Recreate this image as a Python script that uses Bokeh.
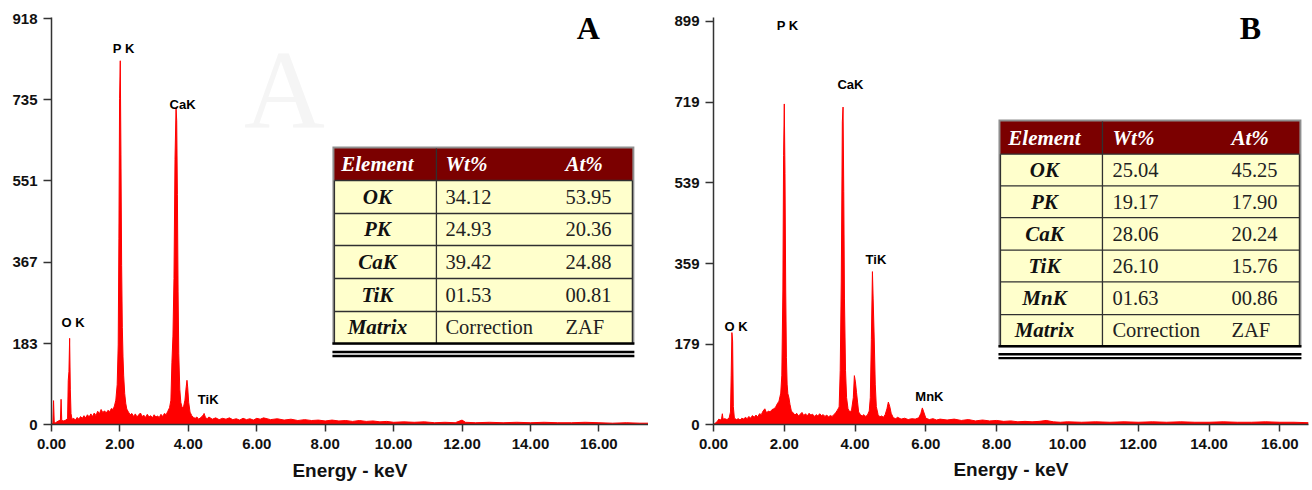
from bokeh.plotting import figure
from bokeh.layouts import row
from bokeh.models import FixedTicker, NumeralTickFormatter, ColumnDataSource, Label, Range1d
from bokeh.core.properties import value
from bokeh.embed import file_html
from bokeh.resources import INLINE

# ---------------- data: panel A ----------------
energy_a = [0.00, 0.04, 0.06, 0.08, 0.12, 0.16, 0.20, 0.26, 0.28, 0.30, 0.36, 0.42, 0.47, 0.49, 0.51, 0.53, 0.55, 0.57, 0.60,
            0.65, 0.70, 0.75, 0.80, 0.85, 0.90, 0.95, 1.00, 1.05, 1.10, 1.15, 1.20, 1.25, 1.30, 1.35, 1.40, 1.45, 1.50,
            1.55, 1.60, 1.65, 1.70, 1.75, 1.80, 1.84, 1.88, 1.92, 1.95, 1.97, 1.99, 2.01, 2.03, 2.05, 2.07, 2.09, 2.11,
            2.14, 2.17, 2.20, 2.25, 2.30, 2.35, 2.40, 2.45, 2.50, 2.55, 2.60, 2.65, 2.70, 2.75, 2.80, 2.85, 2.90, 2.95,
            3.00, 3.05, 3.10, 3.15, 3.20, 3.25, 3.30, 3.35, 3.40, 3.45, 3.49, 3.52, 3.55, 3.58, 3.61, 3.64, 3.66, 3.68,
            3.70, 3.72, 3.75, 3.78, 3.82, 3.86, 3.90, 3.93, 3.96, 3.98, 4.01, 4.05, 4.10, 4.15, 4.20, 4.25, 4.30, 4.35,
            4.40, 4.44, 4.46, 4.50, 4.55, 4.60, 4.70, 4.80, 4.90, 5.00, 5.10, 5.20, 5.30, 5.40, 5.50, 5.60, 5.70, 5.80,
            5.90, 6.00, 6.10, 6.20, 6.40, 6.60, 6.80, 7.00, 7.20, 7.40, 7.60, 7.80, 8.00, 8.20, 8.40, 8.60, 8.80, 9.00,
            9.20, 9.40, 9.60, 9.80, 10.00, 10.30, 10.60, 10.90, 11.20, 11.50, 11.80, 12.00, 12.10, 12.40, 12.80, 13.20,
            13.60, 14.00, 14.40, 14.80, 15.20, 15.60, 16.00, 16.40, 16.80, 17.20, 17.45]
counts_a = [0, 3, 54, 5, 4, 6, 8, 10, 57, 9, 8, 10, 14, 100, 120, 195, 80, 25, 12,
            14, 10, 16, 12, 18, 14, 20, 15, 22, 17, 24, 18, 26, 20, 30, 24, 34, 27,
            31, 26, 32, 29, 36, 34, 42, 55, 90, 180, 420, 738, 823, 610, 360, 220, 153, 110,
            70, 48, 35, 28, 22, 25, 18, 24, 17, 22, 26, 18, 21, 16, 23, 17, 20, 15,
            22, 17, 19, 16, 23, 18, 25, 22, 30, 38, 55, 141, 200, 330, 600, 717, 687, 520,
            300, 160, 80, 50, 38, 40, 55, 80, 100, 85, 50, 28, 20, 16, 14, 17, 12, 15,
            18, 22, 25, 16, 13, 17, 12, 15, 11, 14, 12, 15, 11, 13, 10, 14, 11, 13,
            10, 14, 12, 15, 11, 13, 10, 12, 9, 11, 9, 10, 8, 10, 8, 9, 7, 9,
            7, 8, 6, 7, 5, 6, 5, 6, 4, 5, 4, 10, 5, 4, 5, 4,
            5, 4, 5, 4, 4, 5, 4, 3, 4, 3, 3]
peak_names_a = ["O K", "P K", "CaK", "TiK"]
peak_label_e_a = [0.63, 2.11, 3.83, 4.58]
peak_label_c_a = [231, 851, 724, 57]
xticks_a = [0, 2, 4, 6, 8, 10, 12, 14, 16]
yticks_a = [0, 183, 367, 551, 735, 918]
table_elements_a = ["OK", "PK", "CaK", "TiK", "Matrix"]
table_wt_a = ["34.12", "24.93", "39.42", "01.53", "Correction"]
table_at_a = ["53.95", "20.36", "24.88", "00.81", "ZAF"]

# ---------------- data: panel B ----------------
energy_b = [0.00, 0.10, 0.15, 0.20, 0.23, 0.25, 0.27, 0.32, 0.38, 0.44, 0.48, 0.50, 0.52, 0.54, 0.56, 0.59, 0.65, 0.70,
            0.75, 0.80, 0.85, 0.90, 0.95, 1.00, 1.05, 1.10, 1.15, 1.20, 1.25, 1.30, 1.35, 1.40, 1.45, 1.50, 1.55, 1.60,
            1.65, 1.70, 1.75, 1.80, 1.85, 1.90, 1.93, 1.96, 1.98, 2.00, 2.02, 2.04, 2.06, 2.08, 2.10, 2.13, 2.16, 2.20,
            2.25, 2.30, 2.35, 2.40, 2.45, 2.50, 2.55, 2.60, 2.65, 2.70, 2.75, 2.80, 2.85, 2.90, 2.95, 3.00, 3.05, 3.10,
            3.15, 3.20, 3.25, 3.30, 3.35, 3.40, 3.45, 3.50, 3.55, 3.58, 3.61, 3.64, 3.66, 3.68, 3.70, 3.73, 3.76, 3.80,
            3.85, 3.90, 3.95, 3.98, 4.01, 4.04, 4.07, 4.10, 4.15, 4.20, 4.25, 4.30, 4.35, 4.40, 4.43, 4.46, 4.49, 4.51,
            4.54, 4.57, 4.60, 4.65, 4.70, 4.75, 4.80, 4.85, 4.90, 4.94, 4.98, 5.02, 5.08, 5.15, 5.20, 5.30, 5.40, 5.50,
            5.60, 5.70, 5.80, 5.86, 5.90, 5.94, 6.00, 6.10, 6.20, 6.30, 6.40, 6.60, 6.80, 7.00, 7.20, 7.40, 7.60, 7.80,
            8.00, 8.20, 8.40, 8.60, 8.80, 9.00, 9.20, 9.40, 9.60, 9.80, 10.00, 10.40, 10.80, 11.20, 11.60, 12.00, 12.40,
            12.80, 13.20, 13.60, 14.00, 14.40, 14.80, 15.20, 15.60, 16.00, 16.40, 16.81]
counts_b = [0, 6, 12, 10, 14, 24, 12, 13, 11, 14, 28, 110, 205, 186, 40, 14, 11, 13,
            10, 14, 12, 16, 13, 18, 14, 20, 16, 21, 17, 24, 22, 30, 35, 26, 30, 28,
            33, 35, 38, 46, 52, 70, 110, 300, 600, 715, 560, 300, 150, 90, 69, 60, 45, 30,
            26, 21, 25, 19, 23, 27, 20, 24, 19, 25, 21, 23, 18, 22, 19, 24, 20, 22,
            18, 21, 17, 20, 18, 22, 26, 32, 39, 120, 320, 675, 708, 520, 280, 120, 60, 35,
            28, 32, 60, 109, 95, 72, 50, 28, 22, 19, 22, 18, 21, 30, 60, 190, 341, 282,
            193, 90, 40, 22, 17, 19, 16, 22, 35, 50, 40, 25, 15, 13, 16, 12, 14, 11,
            13, 12, 15, 25, 37, 28, 14, 11, 13, 10, 12, 10, 12, 9, 11, 8, 10, 8,
            9, 7, 8, 6, 7, 6, 7, 9, 6, 5, 6, 5, 6, 5, 6, 5, 6,
            5, 6, 5, 5, 6, 5, 5, 6, 5, 5, 4]
peak_names_b = ["O K", "P K", "CaK", "TiK", "MnK"]
peak_label_e_b = [0.64, 2.09, 3.87, 4.59, 6.10]
peak_label_c_b = [218, 889, 758, 367, 62]
xticks_b = [0, 2, 4, 6, 8, 10, 12, 14, 16]
yticks_b = [0, 179, 359, 539, 719, 899]
table_elements_b = ["OK", "PK", "CaK", "TiK", "MnK", "Matrix"]
table_wt_b = ["25.04", "19.17", "28.06", "26.10", "01.63", "Correction"]
table_at_b = ["45.25", "17.90", "20.24", "15.76", "00.86", "ZAF"]
table_header = ["Element", "Wt%", "At%"]

RED = "#ff0000"
MAROON = "#7b0000"
CREAM = "#ffffcc"
SANS = "Liberation Sans"
SERIF = "Liberation Serif"


def make_panel(width, border_left, border_right, border_top, border_bottom, xmax, ymax, xticks, yticks,
               energy, counts, names, lab_e, lab_c, letter, letter_pos, label_standoff,
               pxmap, table, elements, wt, at):
    p = figure(width=width, height=490, output_backend="svg", toolbar_location=None,
               x_range=Range1d(0, xmax), y_range=Range1d(0, ymax),
               min_border_left=border_left, min_border_right=border_right,
               min_border_top=border_top, min_border_bottom=border_bottom)
    p.outline_line_color = None
    p.xgrid.visible = False
    p.ygrid.visible = False
    p.background_fill_color = "white"
    p.border_fill_color = "white"

    x0, kpx, y0, cpx = pxmap

    def dx(px):
        return (px - x0) / kpx

    def dy(py):
        return (y0 - py) / cpx

    if letter == "A":
        # faint ghost letter in the background of panel A
        p.add_layout(Label(x=dx(284), y=dy(90), text="A", text_font=SERIF, text_font_size="112px",
                           text_color="#f5f5f5", text_align="center", text_baseline="middle"))

    # spectrum
    src = ColumnDataSource(dict(e=energy, c=counts))
    p.varea(x="e", y1=0, y2="c", source=src, fill_color=RED, fill_alpha=1.0)
    p.line(x="e", y="c", source=src, line_color=RED, line_width=1)

    # peak labels
    lsrc = ColumnDataSource(dict(x=lab_e, y=lab_c, t=names))
    p.text(x="x", y="y", text="t", source=lsrc, text_font=value(SANS), text_font_style="bold",
           text_font_size="13px", text_color="black", text_align="center", text_baseline="middle")

    # panel letter
    p.add_layout(Label(x=dx(letter_pos[0]), y=dy(letter_pos[1]), text=letter, text_font=SERIF,
                       text_font_style="bold", text_font_size="32px", text_color="black",
                       text_align="center", text_baseline="middle"))

    # table
    left, right, div, top, rows, dbl, ecx, wtx, atx = table
    bottom = rows[-1]
    p.quad(left=[dx(left - 2)], right=[dx(right + 2)], top=[dy(top - 2)], bottom=[dy(bottom + 1)],
           fill_color="#8f8f8f", line_color=None)
    p.quad(left=[dx(left)], right=[dx(right)], top=[dy(top)], bottom=[dy(rows[0])],
           fill_color=MAROON, line_color=None)
    p.quad(left=[dx(left)], right=[dx(right)], top=[dy(rows[0])], bottom=[dy(bottom)],
           fill_color=CREAM, line_color=None)
    hy = [dy(r) for r in rows[1:-1]]
    p.segment(x0=[dx(left)] * len(hy), x1=[dx(right)] * len(hy), y0=hy, y1=hy,
              line_color="#303030", line_width=1.3)
    p.segment(x0=[dx(left)], x1=[dx(right)], y0=[dy(rows[0])], y1=[dy(rows[0])],
              line_color="#303030", line_width=1.3)
    p.segment(x0=[dx(div), dx(left), dx(right)], x1=[dx(div), dx(left), dx(right)],
              y0=[dy(top), dy(rows[0]), dy(rows[0])], y1=[dy(bottom)] * 3,
              line_color="#303030", line_width=1.3)
    p.segment(x0=[dx(left - 2)] * 3, x1=[dx(right + 2)] * 3,
              y0=[dy(bottom), dy(dbl[0]), dy(dbl[1])], y1=[dy(bottom), dy(dbl[0]), dy(dbl[1])],
              line_color="black", line_width=2.4)

    hcy = dy((top + rows[0]) / 2)
    p.text(x=[dx(ecx)], y=[hcy], text=[table_header[0]], text_font=value(SERIF),
           text_font_style="bold italic", text_font_size="21px", text_color="white",
           text_align="center", text_baseline="middle")
    p.text(x=[dx(wtx), dx(atx)], y=[hcy, hcy], text=table_header[1:], text_font=value(SERIF),
           text_font_style="bold italic", text_font_size="21px", text_color="white",
           text_align="left", text_baseline="middle")
    cys = [dy((rows[i] + rows[i + 1]) / 2) for i in range(len(elements))]
    p.text(x=[dx(ecx)] * len(elements), y=cys, text=elements, text_font=value(SERIF),
           text_font_style="bold italic", text_font_size="21px", text_color="#111111",
           text_align="center", text_baseline="middle")
    p.text(x=[dx(wtx)] * len(wt), y=cys, text=wt, text_font=value(SERIF),
           text_font_size="20.5px", text_color="#222222", text_align="left", text_baseline="middle")
    p.text(x=[dx(atx)] * len(at), y=cys, text=at, text_font=value(SERIF),
           text_font_size="20.5px", text_color="#222222", text_align="left", text_baseline="middle")

    # axes
    p.xaxis.ticker = FixedTicker(ticks=xticks)
    p.xaxis.formatter = NumeralTickFormatter(format="0.00")
    p.yaxis.ticker = FixedTicker(ticks=yticks)
    for ax in (p.xaxis, p.yaxis):
        ax.axis_line_color = "#333333"
        ax.axis_line_width = 1.5
        ax.major_tick_line_color = "#333333"
        ax.major_tick_line_width = 1.5
        ax.major_tick_in = 0
        ax.minor_tick_line_color = None
        ax.major_label_text_font = SANS
        ax.major_label_text_font_style = "bold"
        ax.major_label_text_font_size = "15px"
        ax.major_label_text_color = "#111111"
    p.xaxis.major_tick_out = 7
    p.yaxis.major_tick_out = 8
    p.xaxis.major_label_standoff = 7
    p.yaxis.major_label_standoff = 6
    p.xaxis.axis_label = "Energy - keV"
    p.xaxis.axis_label_text_font = SANS
    p.xaxis.axis_label_text_font_style = "bold"
    p.xaxis.axis_label_text_font_size = "19px"
    p.xaxis.axis_label_text_color = "#111111"
    p.xaxis.axis_label_standoff = label_standoff
    return p


# panel A: frame spans image x 51..648, y 17..424
pA = make_panel(648, 51, 0, 17, 66, 17.45, 920.9, xticks_a, yticks_a, energy_a, counts_a,
                peak_names_a, peak_label_e_a, peak_label_c_a, "A", (588, 28), 8,
                (51.0, 34.22, 424.0, 405.7 / 918),
                (334, 632, 436, 148, [180, 213, 245, 278, 311, 343], (351.5, 355.5), 377, 445, 565),
                table_elements_a, table_wt_a, table_at_a)

# panel B: frame spans image x 713..1308, y 17..428
pB = make_panel(664, 65, 4, 17, 62, 16.81, 907.8, xticks_b, yticks_b, energy_b, counts_b,
                peak_names_b, peak_label_e_b, peak_label_c_b, "B", (1250, 28), 7,
                (713.0, 35.4, 428.0, 407.0 / 899),
                (1000, 1299, 1102, 122, [155, 187, 219, 252, 284, 317, 349], (357, 361), 1044, 1112, 1231),
                table_elements_b, table_wt_b, table_at_b)

layout = row(pA, pB)
open("out.html", "w").write(file_html(layout, INLINE))
